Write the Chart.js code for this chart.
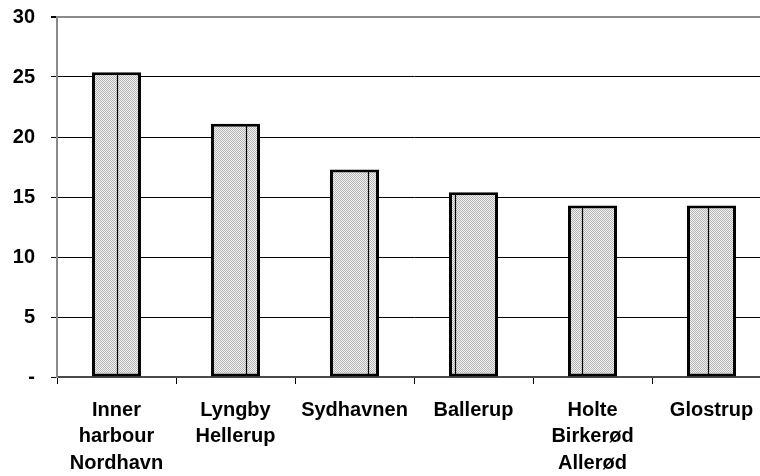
<!DOCTYPE html>
<html>
<head>
<meta charset="utf-8">
<script src="https://cdn.jsdelivr.net/npm/chart.js@4/dist/chart.umd.min.js"></script>
<style>
  html, body { margin: 0; padding: 0; background: #fff; overflow: hidden; }
  #wrap { width: 772px; height: 476px; }
</style>
</head>
<body>
<div id="wrap"><canvas id="c" width="772" height="476"></canvas></div>
<script>
// Areas and their values
const categories = [
  ['Inner', 'harbour', 'Nordhavn'],
  ['Lyngby', 'Hellerup'],
  ['Sydhavnen'],
  ['Ballerup'],
  ['Holte', 'Birkerød', 'Allerød'],
  ['Glostrup']
];
const values = [25.4, 21.1, 17.3, 15.4, 14.3, 14.3];
const yTicks = [0, 5, 10, 15, 20, 25, 30];

// Where the thin vertical rule sits inside each bar (fraction of bar width)
const ruleFrac = [0.51, 0.71, 0.78, 0.13, 0.29, 0.42];

const FONT = { family: '"Liberation Sans", Arial, sans-serif', size: 20, weight: 'bold' };

// Fine stipple fill for the bars
function stipple(ctx) {
  const p = document.createElement('canvas');
  p.width = 2; p.height = 2;
  const g = p.getContext('2d');
  g.fillStyle = '#f2f2f2'; g.fillRect(0, 0, 2, 2);
  g.fillStyle = '#b4b4b4'; g.fillRect(0, 0, 1, 1); g.fillRect(1, 1, 1, 1);
  return ctx.createPattern(p, 'repeat');
}

const canvas = document.getElementById('c');
const ctx = canvas.getContext('2d');

const barRules = {
  id: 'barRules',
  afterDatasetsDraw(chart) {
    const meta = chart.getDatasetMeta(0);
    const c = chart.ctx;
    c.save();
    c.strokeStyle = '#000';
    c.lineWidth = 1.2;
    meta.data.forEach((bar, i) => {
      const half = bar.width / 2;
      const x = Math.round(bar.x - half + bar.width * ruleFrac[i]) + 0.5;
      c.beginPath();
      c.moveTo(x, bar.y + 2);
      c.lineTo(x, bar.base - 1);
      c.stroke();
    });
    c.restore();
  }
};

new Chart(ctx, {
  type: 'bar',
  data: {
    labels: categories,
    datasets: [{
      data: values,
      backgroundColor: stipple(ctx),
      borderColor: '#000',
      borderWidth: 3,
      borderSkipped: false,
      barPercentage: 0.412,
      categoryPercentage: 1
    }]
  },
  options: {
    responsive: false,
    devicePixelRatio: 1,
    animation: false,
    layout: { padding: { top: 17, right: 1, left: 0, bottom: 0 } },
    plugins: { legend: { display: false }, tooltip: { enabled: false } },
    scales: {
      x: {
        grid: {
          offset: true,
          drawOnChartArea: false,
          color: '#000',
          tickLength: 7,
          lineWidth: 1
        },
        border: { color: '#4a4a4a', width: 2 },
        ticks: {
          color: '#000',
          font: { ...FONT, lineHeight: 1.33 },
          padding: 13,
          maxRotation: 0,
          autoSkip: false
        },
        afterFit(scale) {
          scale.height = 99;
          scale.paddingLeft = 0;
          scale.paddingRight = 0;
        }
      },
      y: {
        min: 0,
        max: 30,
        afterBuildTicks(scale) { scale.ticks = yTicks.map(v => ({ value: v })); },
        grid: {
          color: (c) => c.tick && c.tick.value === 30 ? '#8a8a8a' : '#000',
          lineWidth: (c) => c.tick && c.tick.value === 30 ? 2 : 1,
          tickColor: '#000',
          tickLength: 6
        },
        border: { color: '#8a8a8a', width: 2 },
        ticks: {
          color: '#000',
          font: FONT,
          padding: 16,
          callback: (v) => v === 0 ? '-' : String(v)
        },
        afterFit(scale) {
          scale.width = 57;
          scale.paddingTop = 0;
          scale.paddingBottom = 0;
        }
      }
    }
  },
  plugins: [barRules]
});
</script>
</body>
</html>
